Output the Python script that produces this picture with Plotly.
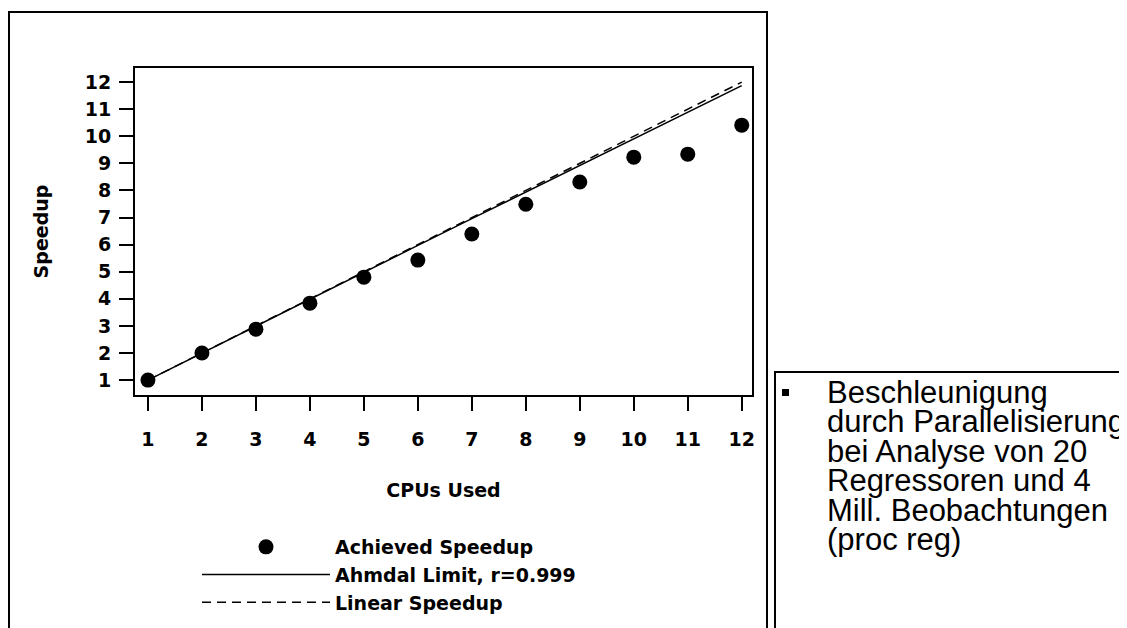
import plotly.graph_objects as go

cpus = [1, 2, 3, 4, 5, 6, 7, 8, 9, 10, 11, 12]
achieved = [1.0, 2.0, 2.88, 3.84, 4.8, 5.43, 6.39, 7.49, 8.31, 9.23, 9.34, 10.41]
amdahl = [1.0, 2.0, 2.99, 3.99, 4.98, 5.97, 6.96, 7.94, 8.93, 9.91, 10.89, 11.87]
linear = [1, 2, 3, 4, 5, 6, 7, 8, 9, 10, 11, 12]
tick_vals = [1, 2, 3, 4, 5, 6, 7, 8, 9, 10, 11, 12]
side_text = ["Beschleunigung", "durch Parallelisierung", "bei Analyse von 20",
             "Regressoren und 4", "Mill. Beobachtungen", "(proc reg)"]

# the page body adds an 8px offset; target positions below are in page pixels
OFF = 8
W, H = 1127 - OFF, 628
L, R, T, B = 135, 752, 68, 395
PW, PH = R - L, B - T


def px(x):
    return (x - L) / PW


def py(y):
    return (B - y) / PH


bold = dict(family="DejaVu Sans", size=19, color="black", weight="bold")

fig = go.Figure()
fig.add_trace(go.Scatter(x=cpus, y=linear, mode="lines", name="Linear Speedup",
                         line=dict(color="black", width=1.5, dash="9px,6px"), legendrank=3))
fig.add_trace(go.Scatter(x=cpus, y=amdahl, mode="lines", name="Ahmdal Limit, r=0.999",
                         line=dict(color="black", width=1.5), legendrank=2))
fig.add_trace(go.Scatter(x=cpus, y=achieved, mode="markers", name="Achieved Speedup",
                         marker=dict(color="black", size=15, symbol="circle"), legendrank=1))

axis_common = dict(showgrid=False, zeroline=False, showline=True, linecolor="black",
                   linewidth=2, mirror=True, ticks="outside", ticklen=14, tickwidth=2,
                   tickcolor="black", tickfont=bold, tickmode="array", tickvals=tick_vals)

fig.update_xaxes(range=[0.76, 12.19], ticklabelstandoff=12,
                 title=dict(text="CPUs Used", font=bold, standoff=35), **axis_common)
fig.update_yaxes(range=[0.45, 12.52], ticklabelstandoff=4,
                 title=dict(text="Speedup", font=bold, standoff=31), **axis_common)

shapes = [
    dict(type="rect", xref="paper", yref="paper", x0=px(9), x1=px(767), y0=py(660), y1=py(12),
         line=dict(color="black", width=2), fillcolor="rgba(0,0,0,0)", layer="below"),
    dict(type="rect", xref="paper", yref="paper", x0=px(775), x1=px(1160), y0=py(660), y1=py(372),
         line=dict(color="black", width=2), fillcolor="rgba(0,0,0,0)", layer="below"),
    dict(type="rect", xref="paper", yref="paper", x0=px(782), x1=px(789), y0=py(396), y1=py(389),
         line=dict(width=0), fillcolor="black"),
]

annotations = []
for i, line in enumerate(side_text):
    annotations.append(dict(text=line, xref="paper", yref="paper", x=px(825), y=py(392 + 29.5 * i),
                            xanchor="left", yanchor="middle", showarrow=False,
                            font=dict(family="Liberation Sans", size=31, color="black")))

fig.update_layout(
    width=W, height=H, autosize=False,
    margin=dict(l=L - OFF, r=W - (R - OFF), t=T - OFF, b=H - (B - OFF), pad=0, autoexpand=False),
    paper_bgcolor="white", plot_bgcolor="white",
    showlegend=True,
    legend=dict(x=px(197), y=py(528), xanchor="left", yanchor="top", font=bold,
                itemwidth=128, bgcolor="rgba(0,0,0,0)", traceorder="normal",
                tracegroupgap=0, itemclick=False, itemdoubleclick=False),
    shapes=shapes,
    annotations=annotations,
)

fig.write_html("out.html")
